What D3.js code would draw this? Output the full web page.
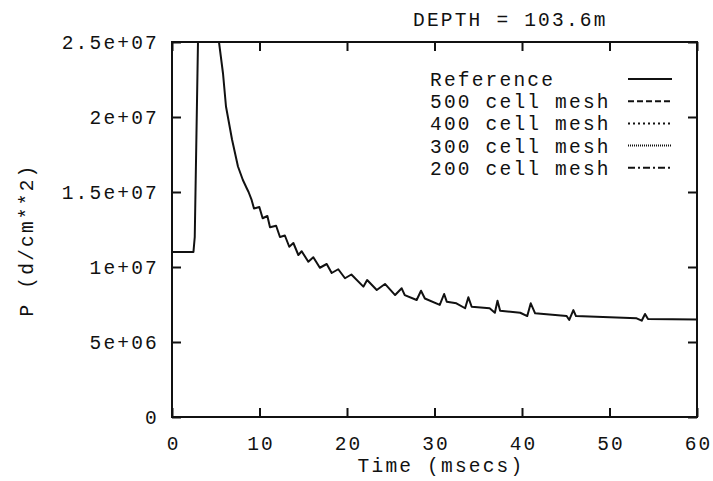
<!DOCTYPE html>
<html>
<head>
<meta charset="utf-8">
<script src="https://cdn.jsdelivr.net/npm/d3@7"></script>
<style>
	html, body { margin: 0; padding: 0; background: #fff; }
	svg text { font-family: 'Liberation Mono', 'DejaVu Sans Mono', monospace; fill: #111; letter-spacing: 2.2px; }
</style>
</head>
<body>
<div id="chart"></div>
<script>
// reference pressure history (time in msecs, P in d/cm**2)
const refTime = [0, 2.45, 2.6, 2.97, 3.2, 4.0, 5.0, 5.37, 5.83, 6.17, 6.86, 7.54, 8.1, 8.5, 8.75, 9.1, 9.37, 9.98,
	10.36, 10.9, 11.2, 11.9, 12.34, 12.9, 13.4, 13.87, 14.44, 14.82, 15.58, 16.15, 16.9, 17.68, 18.25, 19.0,
	19.77, 20.5, 21.87, 22.3, 23.4, 24.34, 25.5, 26.25, 26.6, 27.96, 28.46, 28.9, 30.6, 31.1, 31.4, 32.5, 33.5,
	33.87, 34.25, 36.3, 36.9, 37.2, 37.5, 39.8, 40.6, 41.0, 41.5, 45.1, 45.4, 45.87, 46.17, 53.1, 53.68, 54.06,
	54.4, 60];
const refP = [1.1e7, 1.1e7, 1.2e7, 2.5e7, 3.3e7, 3.0e7, 2.65e7, 2.5e7, 2.29e7, 2.07e7, 1.85e7, 1.67e7, 1.58e7,
	1.53e7, 1.50e7, 1.447e7, 1.39e7, 1.40e7, 1.325e7, 1.34e7, 1.265e7, 1.275e7, 1.20e7, 1.21e7, 1.135e7,
	1.16e7, 1.08e7, 1.105e7, 1.035e7, 1.065e7, 9.95e6, 1.02e7, 9.6e6, 9.85e6, 9.25e6, 9.5e6, 8.69e6, 9.13e6,
	8.47e6, 8.87e6, 8.13e6, 8.58e6, 8.13e6, 7.8e6, 8.42e6, 7.9e6, 7.47e6, 8.2e6, 7.69e6, 7.58e6, 7.25e6,
	7.98e6, 7.35e6, 7.25e6, 6.95e6, 7.75e6, 7.09e6, 6.95e6, 6.73e6, 7.58e6, 6.91e6, 6.73e6, 6.47e6, 7.13e6,
	6.73e6, 6.58e6, 6.42e6, 6.87e6, 6.53e6, 6.5e6];

const xTicks = [0, 10, 20, 30, 40, 50, 60];
const yTicks = [0, 5e6, 1e7, 1.5e7, 2e7, 2.5e7];
const yTickLabels = ['0', '5e+06', '1e+07', '1.5e+07', '2e+07', '2.5e+07'];
const legendNames = ['Reference', '500 cell mesh', '400 cell mesh', '300 cell mesh', '200 cell mesh'];
const legendDash = [null, '6,3', '2,3', '1,1', '7,3,2,3'];

const W = 713, H = 481;
const m = { left: 172, right: 16, top: 42, bottom: 64 };
const iw = W - m.left - m.right, ih = H - m.top - m.bottom;
const tickLen = 9;
const fs = '19.5px';

const svg = d3.select('#chart')
	.append('svg')
	.attr('width', W)
	.attr('height', H)
	.attr('viewBox', `0 0 ${W} ${H}`);

const x = d3.scaleLinear().domain([0, 60]).range([0, iw]);
const y = d3.scaleLinear().domain([0, 2.5e7]).range([ih, 0]);

const g = svg.append('g').attr('transform', `translate(${m.left},${m.top})`);

svg.append('defs').append('clipPath').attr('id', 'plotclip')
	.append('rect').attr('width', iw).attr('height', ih);

// axes, ticks pointing into the frame on all four sides
const axB = g.append('g').attr('transform', `translate(0,${ih})`)
	.call(d3.axisBottom(x).tickValues(xTicks).tickSizeInner(-tickLen).tickSizeOuter(0).tickPadding(tickLen + 10));
const axT = g.append('g')
	.call(d3.axisTop(x).tickValues(xTicks).tickSizeInner(-tickLen).tickSizeOuter(0).tickFormat(''));
const axL = g.append('g')
	.call(d3.axisLeft(y).tickValues(yTicks).tickSizeInner(-tickLen).tickSizeOuter(0).tickPadding(tickLen + 4)
		.tickFormat((d, i) => yTickLabels[i]));
const axR = g.append('g').attr('transform', `translate(${iw},0)`)
	.call(d3.axisRight(y).tickValues(yTicks).tickSizeInner(-tickLen).tickSizeOuter(0).tickFormat(''));

[axB, axT, axL, axR].forEach(a => {
	a.select('.domain').remove();
	a.selectAll('line').attr('stroke', '#111').attr('stroke-width', 2);
	a.selectAll('text').style('font-size', fs).attr('fill', '#111');
});
// letter-spacing leaves a trailing gap, pull centred labels back a little
axB.selectAll('text').attr('dx', '1.1');

g.append('rect')
	.attr('width', iw)
	.attr('height', ih)
	.attr('fill', 'none')
	.attr('stroke', '#111')
	.attr('stroke-width', 2);

// curve
const line = d3.line()
	.x((d, i) => x(refTime[i]))
	.y(d => y(d));

g.append('g').attr('clip-path', 'url(#plotclip)')
	.append('path')
	.datum(refP)
	.attr('d', line)
	.attr('fill', 'none')
	.attr('stroke', '#111')
	.attr('stroke-width', 2)
	.attr('stroke-linejoin', 'round');

// legend
const leg = g.append('g').attr('transform', `translate(${430 - m.left},${86 - m.top})`);
legendNames.forEach((name, i) => {
	leg.append('text')
		.attr('x', 0)
		.attr('y', i * 22.2)
		.style('font-size', fs)
		.text(name);
	leg.append('line')
		.attr('x1', 198)
		.attr('x2', 242)
		.attr('y1', i * 22.2 - 7)
		.attr('y2', i * 22.2 - 7)
		.attr('stroke', '#111')
		.attr('stroke-width', 2)
		.attr('stroke-dasharray', legendDash[i]);
});

// titles
svg.append('text')
	.attr('x', 413)
	.attr('y', 26)
	.style('font-size', fs)
	.text('DEPTH = 103.6m');

svg.append('text')
	.attr('x', 441)
	.attr('y', 472)
	.attr('text-anchor', 'middle')
	.style('font-size', fs)
	.text('Time (msecs)');

svg.append('text')
	.attr('transform', `translate(33,${240}) rotate(-90)`)
	.attr('text-anchor', 'middle')
	.style('font-size', fs)
	.text('P (d/cm**2)');
</script>
</body>
</html>
